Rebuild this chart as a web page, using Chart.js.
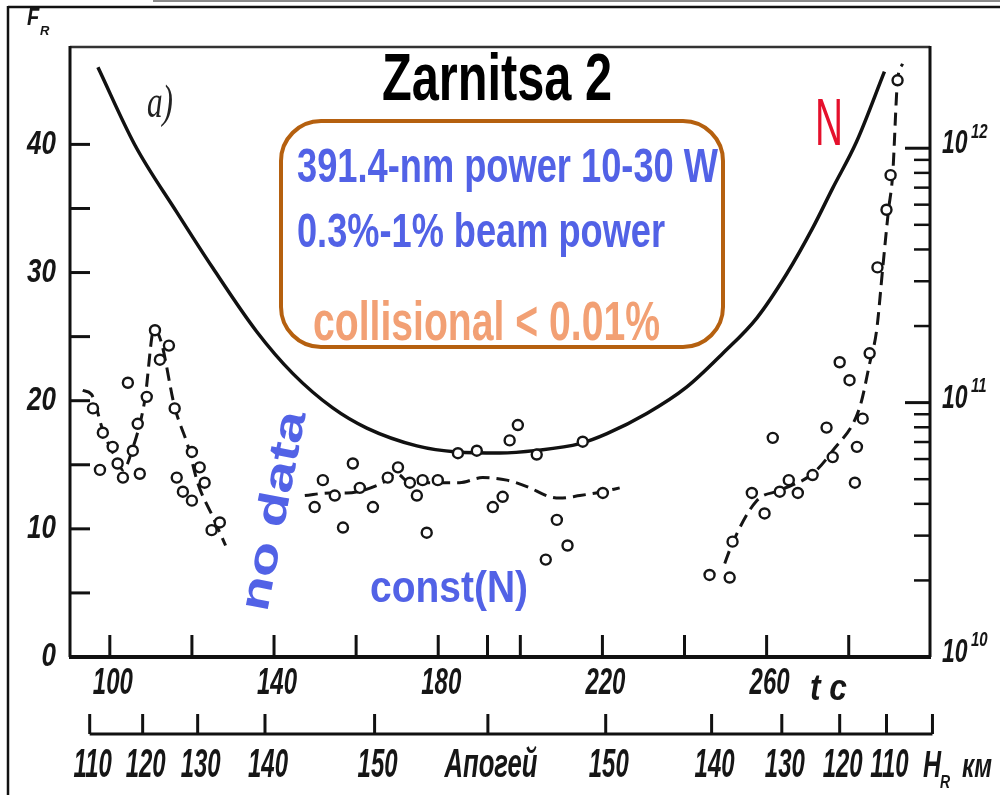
<!DOCTYPE html>
<html lang="ru">
<head>
<meta charset="UTF-8">
<title>Zarnitsa 2</title>
<script src="https://cdn.jsdelivr.net/npm/chart.js"></script>
<style>
  html, body { margin: 0; padding: 0; background: #fff; }
  canvas { display: block; }
</style>
</head>
<body>
<canvas id="fluxChart" width="1000" height="795"></canvas>
<script>
// time axis (t, s)
const timeTicks  = [100, 120, 140, 160, 180, 200, 220, 240, 260, 280];
const timeLabels = ['100', '', '140', '', '180', '', '220', '', '260', ''];
const apogeeTime = 192;

// left axis F_R
const fTicks  = [5, 10, 15, 20, 25, 30, 35, 40];
const fLabels = [0, 10, 20, 30, 40];

// right axis N (log)
const nDecades   = [1e10, 1e11, 1e12];
const nExponents = ['10', '11', '12'];

// rocket altitude scale H_R, km, placed by flight time
const heightTimes  = [95.1, 108.0, 121.4, 137.8, 164.5, 192.1, 220.8, 246.6, 263.7, 277.8, 289.2, 300.4];
const heightLabels = ['110', '120', '130', '140', '150', 'Апогей', '150', '140', '130', '120', '110', ''];

// density N along the trajectory
const nTimes  = [97.1, 106.1, 116.3, 125.1, 135.8, 144.6, 154.3, 162.6, 174.8, 184.5, 195.0, 204.0,
                 214.5, 221.1, 230.8, 240.5, 249.3, 257.6, 264.9, 271.2, 276.1, 281.9, 288.7];
const nValues = [2.08e12, 1.03e12, 5.61e11, 3.38e11, 1.90e11, 1.30e11, 9.53e10, 7.94e10, 6.76e10, 6.40e10,
                 6.34e10, 6.49e10, 6.90e10, 7.55e10, 9.06e10, 1.15e11, 1.56e11, 2.15e11, 3.21e11, 4.85e11,
                 6.97e11, 1.06e12, 2.00e12];

// dashed smoothing of F_R, three flight segments
const fitUpT   = [93.4, 95.5, 98.5, 101.5, 103.2, 105.5, 108.5, 110.8, 112.5, 115.8, 119.0, 121.5, 125.0, 128.2];
const fitUpF   = [20.8, 20.5, 17.5, 15.5, 14.6, 16.2, 20.0, 25.6, 24.6, 19.5, 16.5, 13.5, 11.0, 8.7];
const fitMidT  = [147.5, 153.6, 157.7, 161.6, 166.5, 169.9, 173.1, 179.6, 185.2, 190.8, 196.7, 201.6, 207.2, 209.6, 214.5, 220.1, 224.2];
const fitMidF  = [12.6, 12.8, 12.8, 13.0, 13.6, 14.3, 13.6, 13.6, 13.6, 14.0, 13.8, 13.3, 12.5, 12.4, 12.6, 12.9, 13.2];
const fitDownT = [249.8, 251.7, 257.6, 263.2, 271.2, 276.1, 282.7, 285.1, 286.8, 288.3, 289.7, 290.7, 291.9, 293.1];
const fitDownF = [7.3, 8.9, 12.2, 13.0, 14.3, 16.1, 19.5, 22.9, 25.5, 30.4, 34.9, 37.6, 45.0, 46.3];

// measured F_R, [t, F]
const obsUp = [[95.9, 19.4], [98.3, 17.5], [100.7, 16.4], [101.9, 15.1], [103.2, 14.0], [97.6, 14.6],
  [107.3, 14.3], [105.6, 16.1], [106.8, 18.2], [109.0, 20.3], [104.4, 21.4], [111.0, 25.5], [114.4, 24.3],
  [112.2, 23.2], [115.8, 19.4], [120.0, 16.0], [121.9, 14.8], [123.1, 13.6], [116.3, 14.0], [117.8, 12.9],
  [120.0, 12.2], [126.8, 10.5], [124.8, 9.9]];
const obsMid = [[149.9, 11.7], [151.9, 13.8], [154.8, 12.6], [156.8, 10.1], [159.2, 15.1], [160.9, 13.2],
  [164.1, 11.7], [167.7, 14.0], [170.2, 14.8], [173.1, 13.6], [174.8, 12.6], [176.2, 13.8], [177.2, 9.7],
  [179.9, 13.8], [184.8, 15.9], [189.4, 16.1], [197.4, 16.9], [199.4, 18.1], [204.0, 15.8], [215.2, 16.8],
  [195.7, 12.5], [193.3, 11.7], [208.9, 10.7], [211.5, 8.7], [206.2, 7.6], [220.1, 12.8]];
const obsDown = [[246.1, 6.4], [251.0, 6.2], [251.7, 9.0], [256.4, 12.8], [259.5, 11.2], [263.2, 12.9],
  [265.4, 13.8], [267.6, 12.8], [271.2, 14.2], [276.1, 15.6], [274.6, 17.9], [261.5, 17.1], [282.0, 16.4],
  [281.5, 13.6], [283.4, 18.6], [280.2, 21.6], [277.8, 23.0], [285.1, 23.7], [287.0, 30.4], [289.2, 34.9],
  [290.2, 37.6], [291.9, 45.0]];

const SANS = '"Liberation Sans", Arial, sans-serif';
const BLUE = '#5262e6';

function zip(xs, ys) { return xs.map((v, i) => ({ x: v, y: ys[i] })); }
function pairs(list) { return list.map(p => ({ x: p[0], y: p[1] })); }

function line(ctx, x1, y1, x2, y2) {
  ctx.beginPath(); ctx.moveTo(x1, y1); ctx.lineTo(x2, y2); ctx.stroke();
}

// text drawn with its own horizontal / vertical stretch
function txt(ctx, s, x, y, o) {
  ctx.save();
  ctx.font = (o.style || '') + ' ' + (o.weight || 'normal') + ' ' + o.size + 'px ' + (o.family || SANS);
  ctx.fillStyle = o.color || '#111';
  ctx.textBaseline = o.baseline || 'alphabetic';
  ctx.textAlign = 'left';
  const w = ctx.measureText(s).width;
  const sx = o.width ? o.width / w : (o.sx || 1);
  ctx.translate(x, y);
  if (o.rotate) ctx.rotate(o.rotate);
  ctx.scale(sx, o.sy || 1);
  let dx = 0;
  if (o.align === 'center') dx = -w / 2;
  else if (o.align === 'right') dx = -w;
  ctx.fillText(s, dx, 0);
  ctx.restore();
}

const decor = {
  id: 'decor',
  beforeDatasetsDraw(chart) {
    const { ctx, chartArea: a, scales } = chart;
    const x = scales.x, y = scales.y, yN = scales.yN;
    ctx.save();

    // outer frame
    ctx.lineWidth = 2;
    ctx.strokeStyle = '#8a8a8a';
    line(ctx, 153, 1, 1000, 1);
    ctx.strokeStyle = '#111';
    ctx.lineWidth = 2.5;
    line(ctx, 8, 7, 1000, 7);
    line(ctx, 8, 6, 8, 795);

    // inward ticks
    ctx.lineWidth = 3;
    fTicks.forEach(v => { const py = y.getPixelForValue(v); line(ctx, a.left, py, a.left + 20, py); });
    timeTicks.concat([apogeeTime]).forEach(v => {
      const px = x.getPixelForValue(v); line(ctx, px, a.bottom, px, a.bottom - 22);
    });
    nDecades.slice(1).forEach(v => { const py = yN.getPixelForValue(v); line(ctx, a.right - 25, py, a.right, py); });
    ctx.lineWidth = 2.5;
    nDecades.slice(0, 2).forEach(d => {
      for (let m = 2; m <= 9; m++) {
        const py = yN.getPixelForValue(m * d);
        line(ctx, a.right - 16, py, a.right, py);
      }
    });

    // plot border
    ctx.lineWidth = 2.5;
    ctx.strokeStyle = '#333';
    line(ctx, a.left, a.top, a.right, a.top);
    ctx.strokeStyle = '#111';
    ctx.lineWidth = 3;
    line(ctx, a.left, a.top - 1, a.left, a.bottom);
    line(ctx, a.right, a.top - 1, a.right, a.bottom);
    ctx.lineWidth = 4;
    line(ctx, a.left - 1, a.bottom, a.right + 1, a.bottom);

    // altitude scale under the time axis
    const hy = 734;
    const hx = heightTimes.map(t => x.getPixelForValue(t));
    ctx.lineWidth = 3;
    line(ctx, hx[0], hy, hx[hx.length - 1], hy);
    hx.forEach(px => line(ctx, px, hy, px, hy - 20));
    ctx.restore();
  },
  afterDraw(chart) {
    const { ctx, chartArea: a, scales } = chart;
    const x = scales.x, y = scales.y, yN = scales.yN;
    const tick = { style: 'italic', weight: 'bold', color: '#161616' };

    // axis labels
    fLabels.forEach(v => txt(ctx, String(v), a.left - 14, y.getPixelForValue(v),
      Object.assign({ size: 26, sy: 1.3, align: 'right', baseline: 'middle' }, tick)));
    timeTicks.forEach((v, i) => {
      if (timeLabels[i]) txt(ctx, timeLabels[i], x.getPixelForValue(v) + 3, 684,
        Object.assign({ size: 24, sy: 1.55, align: 'center', baseline: 'middle' }, tick));
    });
    txt(ctx, 't c', 810, 700, Object.assign({ size: 26, sy: 1.45, width: 37 }, tick));

    heightTimes.forEach((t, i) => {
      const lab = heightLabels[i];
      if (!lab) return;
      const o = Object.assign({ size: 24, sy: 1.7, align: 'center' }, tick);
      if (lab === 'Апогей') o.width = 93;
      txt(ctx, lab, x.getPixelForValue(t) + 3, 777, o);
    });
    txt(ctx, 'H', 923, 777, Object.assign({ size: 25, sy: 1.45 }, tick));
    txt(ctx, 'R', 940, 788, Object.assign({ size: 14, sy: 1.3 }, tick));
    txt(ctx, 'км', 962, 777, Object.assign({ size: 24, sy: 1.4 }, tick));

    nDecades.forEach((v, i) => {
      const py = yN.getPixelForValue(v);
      txt(ctx, '10', 942, py - 4, Object.assign({ size: 23, sy: 1.45, baseline: 'middle' }, tick));
      txt(ctx, nExponents[i], 971, py - 16, Object.assign({ size: 15, sy: 1.3, baseline: 'middle' }, tick));
    });

    txt(ctx, 'F', 27, 25, Object.assign({ size: 20, sy: 1.2 }, tick));
    txt(ctx, 'R', 40, 35, Object.assign({ size: 13 }, tick));

    // annotations
    txt(ctx, 'a)', 147, 117, { size: 34, sy: 1.35, width: 26, style: 'italic', family: '"Liberation Serif", serif', color: '#222' });
    txt(ctx, 'Zarnitsa 2', 382, 100, { size: 48, weight: 'bold', sy: 1.4, width: 230, color: '#000' });
    txt(ctx, 'N', 815, 145, { size: 48, sy: 1.4, width: 28, color: '#e5102c' });

    ctx.save();
    ctx.strokeStyle = '#b5600f';
    ctx.lineWidth = 4;
    ctx.beginPath();
    ctx.roundRect(281, 121, 442, 226, 40);
    ctx.stroke();
    ctx.restore();

    txt(ctx, '391.4-nm power 10-30 W', 297, 182, { size: 34, weight: 'bold', sy: 1.4, width: 421, color: BLUE });
    txt(ctx, '0.3%-1% beam power', 297, 247, { size: 34, weight: 'bold', sy: 1.4, width: 368, color: BLUE });
    txt(ctx, 'collisional < 0.01%', 313, 340, { size: 40, weight: 'bold', sy: 1.4, width: 347, color: '#f2a074' });

    txt(ctx, 'no data', 267, 613, { size: 42, weight: 'bold', width: 203, rotate: -79 * Math.PI / 180, color: BLUE });
    txt(ctx, 'const(N)', 370, 602, { size: 36, weight: 'bold', sy: 1.25, width: 158, color: BLUE });
  }
};

const dashed = { type: 'line', yAxisID: 'y', borderColor: '#151515', borderWidth: 3, borderDash: [13, 7],
  pointRadius: 0, cubicInterpolationMode: 'monotone', fill: false, order: 2 };

new Chart(document.getElementById('fluxChart'), {
  type: 'scatter',
  data: {
    datasets: [
      {
        label: 'F_R',
        data: pairs(obsUp).concat(pairs(obsMid), pairs(obsDown)),
        yAxisID: 'y',
        pointStyle: 'circle',
        pointRadius: 5,
        borderWidth: 2.4,
        borderColor: '#151515',
        backgroundColor: '#ffffff',
        order: 0
      },
      Object.assign({ label: 'fit 1', data: zip(fitUpT, fitUpF) }, dashed),
      Object.assign({ label: 'fit 2', data: zip(fitMidT, fitMidF) }, dashed),
      Object.assign({ label: 'fit 3', data: zip(fitDownT, fitDownF) }, dashed),
      {
        type: 'line',
        label: 'N',
        data: zip(nTimes, nValues),
        yAxisID: 'yN',
        borderColor: '#111',
        borderWidth: 3.5,
        pointRadius: 0,
        cubicInterpolationMode: 'monotone',
        fill: false,
        order: 1
      }
    ]
  },
  options: {
    responsive: false,
    animation: false,
    devicePixelRatio: 1,
    layout: { padding: { left: 70, right: 70, top: 47, bottom: 138 } },
    plugins: { legend: { display: false }, tooltip: { enabled: false } },
    scales: {
      x: { type: 'linear', min: 90.3, max: 299.8, display: false },
      y: { type: 'linear', min: 0, max: 47.6, display: false },
      yN: { type: 'logarithmic', position: 'right', min: 1e10, max: 2.5e12, display: false }
    }
  },
  plugins: [decor]
});
</script>
</body>
</html>
